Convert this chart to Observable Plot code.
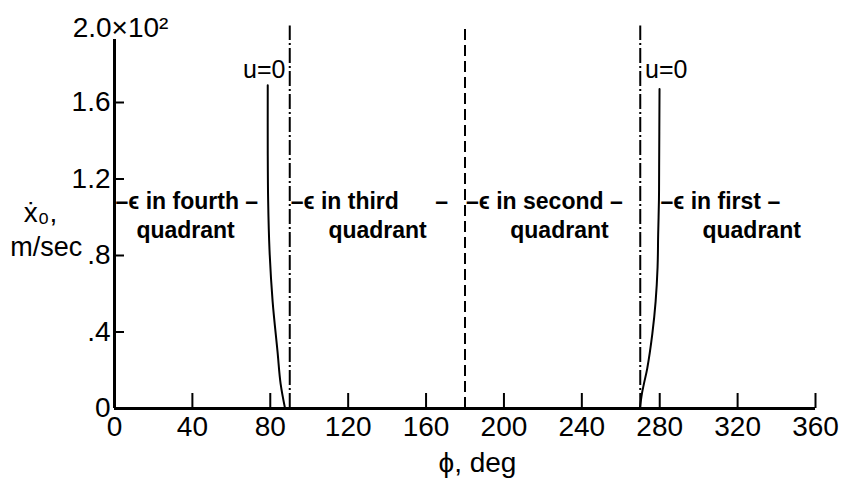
<!DOCTYPE html>
<html><head><meta charset="utf-8">
<script src="https://cdn.jsdelivr.net/npm/d3@7"></script>
<script src="https://cdn.jsdelivr.net/npm/@observablehq/plot@0.6"></script>
<style>html,body{margin:0;padding:0;background:#fff;}</style>
</head><body><div id="chart"></div>
<script>
const xTickValues = [0, 40, 80, 120, 160, 200, 240, 280, 320, 360];
const yTickValues = [0, 0.4, 0.8, 1.2, 1.6];
const yTickLabels = ["0", ".4", ".8", "1.2", "1.6"];
const yTopValue = 2.0;
const yTopLabel = "2.0×10²";
const axisTopValue = 1.93;
const boundaryTop = 2.0;

// u = 0 curve bounding the fourth-quadrant region (phi, xdot0)
const fourthPhi = [87.6, 85.3, 83.7, 81.2, 79.6, 78.9, 78.7, 78.7];
const fourthV   = [0, 0.13, 0.30, 0.56, 0.83, 1.09, 1.35, 1.69];
// u = 0 curve bounding the first-quadrant region
const firstPhi = [269.8, 270.9, 271.9, 273.6, 276.2, 277.9, 278.9, 279.2, 279.6, 279.7, 279.9];
const firstV   = [0, 0.08, 0.13, 0.21, 0.39, 0.56, 0.74, 0.91, 1.09, 1.26, 1.67];

const dashDotPhi = [90, 270];
const dashedPhi = [180];

const curveLabel = "u=0";
const quadrantHeads = ["–ϵ in fourth –", "–ϵ in third", "–ϵ in second –", "–ϵ in first –"];
const quadrantSub = "quadrant";
const thirdTrail = "–";
const xLabel = "ϕ, deg";
const yLabelTop = "ẋ₀,";
const yLabelBottom = "m/sec";

const fourthData = fourthPhi.map((p, i) => ({phi: p, v: fourthV[i]}));
const firstData = firstPhi.map((p, i) => ({phi: p, v: firstV[i]}));

const headStarts = [0, 90, 180, 279.9];
const subCenters = [36.5, 135.1, 228.5, 327.2];
const heads = quadrantHeads.map((t, i) => ({t, phi: headStarts[i]}));
const subs = subCenters.map(phi => ({t: quadrantSub, phi}));

const font = "'Liberation Sans', Arial, 'DejaVu Sans', sans-serif";

const plot = Plot.plot({
  width: 842, height: 482,
  marginLeft: 114, marginRight: 27, marginTop: 25.5, marginBottom: 74,
  x: {domain: [0, 360]},
  y: {domain: [0, 2]},
  style: {fontFamily: font, fontSize: "28px", background: "#fff", color: "#000", overflow: "visible"},
  marks: [
    Plot.axisX({ticks: xTickValues, tickSize: 0, tickPadding: 8, label: null, tickFormat: d => String(d)}),
    Plot.axisY({ticks: yTickValues, tickSize: 0, tickPadding: 4, label: null,
      tickFormat: d => yTickLabels[yTickValues.indexOf(d)]}),
    Plot.text([yTopLabel], {x: 0, y: yTopValue, text: d => d, dx: 6, dy: 2, fontSize: 28}),
    // axes
    Plot.ruleX([0], {x: d => d, y1: 0, y2: axisTopValue, strokeWidth: 3}),
    Plot.ruleY([0], {y: d => d, x1: 0, x2: 360, strokeWidth: 3}),
    // inward tick marks
    Plot.ruleX(xTickValues.filter(d => d > 0), {x: d => d, y1: 0, y2: 0, insetTop: -15, strokeWidth: 2}),
    Plot.ruleY(yTickValues.filter(d => d > 0), {y: d => d, x1: 0, x2: 0, insetRight: -10, strokeWidth: 2}),
    // quadrant boundaries
    Plot.ruleX(dashDotPhi, {x: d => d, y1: 0, y2: boundaryTop, strokeWidth: 2, strokeDasharray: "15,3,2,3"}),
    Plot.ruleX(dashedPhi, {x: d => d, y1: 0, y2: boundaryTop, strokeWidth: 2, strokeDasharray: "11,5"}),
    // u = 0 curves
    Plot.line(fourthData, {x: "phi", y: "v", curve: "catmull-rom", strokeWidth: 2}),
    Plot.line(firstData, {x: "phi", y: "v", curve: "catmull-rom", strokeWidth: 2}),
    Plot.text([curveLabel], {x: 87.8, y: 1.77, text: d => d, textAnchor: "end", fontSize: 25}),
    Plot.text([curveLabel], {x: 272.5, y: 1.77, text: d => d, textAnchor: "start", fontSize: 25}),
    // quadrant annotations
    Plot.text(heads, {x: "phi", y: 1.08, text: "t", textAnchor: "start", dx: 1, fontSize: 23, fontWeight: "bold"}),
    Plot.text([thirdTrail], {x: 168, y: 1.08, text: d => d, fontSize: 23, fontWeight: "bold"}),
    Plot.text(subs, {x: "phi", y: 0.93, text: "t", fontSize: 23, fontWeight: "bold"}),
    // axis titles
    Plot.text([xLabel], {x: 186.4, y: 0, text: d => d, dy: 55, fontSize: 28}),
    Plot.text([yLabelTop], {x: -38, y: 1.02, text: d => d, fontSize: 28}),
    Plot.text([yLabelBottom], {x: -35, y: 0.84, text: d => d, fontSize: 27})
  ]
});
document.getElementById("chart").appendChild(plot);
</script>
</body></html>
